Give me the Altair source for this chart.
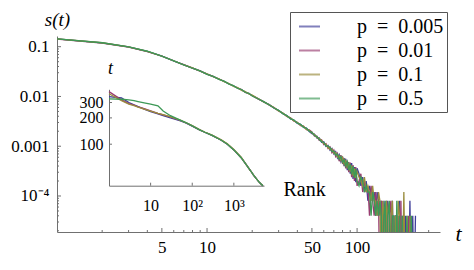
import altair as alt
import pandas as pd

# ---------------- main panel data: s(t) ----------------
t_vals = [1, 2, 3, 4, 5, 6, 7, 8, 9, 10, 11, 12, 13, 14, 15, 16, 17, 18, 19, 20,
          22, 24, 26, 28, 30, 32, 34, 36, 38, 40,
          42, 44, 46, 48, 50, 52, 54, 56, 58, 60, 62, 64, 66, 68, 70, 72, 74, 76, 78, 80,
          82, 84, 86, 88, 90, 92, 94, 96, 98, 100,
          103, 106, 109, 112, 115, 118, 121, 124, 127, 130, 133, 136, 139, 142, 145, 148,
          151, 154, 157, 160,
          164, 168, 172, 176, 180, 184, 188, 192, 196, 200,
          205, 210, 215, 220, 225, 230, 235, 240, 245]

s_p0005 = [0.143, 0.119, 0.0989, 0.0804, 0.0646, 0.0519, 0.0432, 0.0372, 0.0324, 0.0282,
           0.0251, 0.0224, 0.0200, 0.0180, 0.0162, 0.0148, 0.0135, 0.0123, 0.01135, 0.01047,
           0.00895, 0.00768, 0.00684, 0.00580, 0.00525, 0.00450, 0.00415, 0.00355, 0.00333, 0.00288,
           0.00276, 0.00238, 0.00231, 0.00198,
           0.00180, 0.00176, 0.00146, 0.00147, 0.00120, 0.00123, 0.00099, 0.00104, 0.00083, 0.00090,
           0.00070, 0.00078, 0.00058, 0.00068, 0.00049, 0.00062, 0.00040, 0.00056, 0.00033, 0.00048,
           0.00028, 0.00046, 0.00022, 0.00038, 0.00019, 0.00036,
           2.8e-4, 1.6e-4, 2.4e-4, 1.2e-4, 2.0e-4, 8e-5, 1.6e-4, 1.2e-4, 8e-5, 1.2e-4,
           4e-5, 1.2e-4, 8e-5, 4e-5, 8e-5, 1e-6, 8e-5, 4e-5, 1e-6, 8e-5,
           4e-5, 1e-6, 8e-5, 1e-6, 4e-5, 4e-5, 1e-6, 8e-5, 1e-6, 4e-5,
           1e-6, 4e-5, 1e-6, 1e-6, 8e-5, 1e-6, 4e-5, 1e-6, 4e-5]

s_p001 = [0.142, 0.118, 0.0985, 0.0800, 0.0650, 0.0516, 0.0435, 0.0370, 0.0326, 0.0280,
          0.0253, 0.0222, 0.0202, 0.0178, 0.0164, 0.0146, 0.0137, 0.0121, 0.0115, 0.0103,
          0.00885, 0.00782, 0.00668, 0.00597, 0.00510, 0.00466, 0.00398, 0.00372, 0.00318, 0.00303,
          0.00260, 0.00253, 0.00216, 0.00212,
          0.00193, 0.00160, 0.00160, 0.00131, 0.00135, 0.00108, 0.00113, 0.00090, 0.00097, 0.00074,
          0.00084, 0.00062, 0.00072, 0.00050, 0.00066, 0.00044, 0.00058, 0.00036, 0.00051, 0.00030,
          0.00047, 0.00024, 0.00042, 0.00020, 0.00038, 0.00016,
          2.0e-4, 2.8e-4, 1.2e-4, 2.0e-4, 1.2e-4, 1.6e-4, 4e-5, 1.6e-4, 8e-5, 4e-5,
          1.2e-4, 4e-5, 8e-5, 1e-6, 8e-5, 4e-5, 1e-6, 4e-5, 8e-5, 1e-6,
          4e-5, 8e-5, 1e-6, 4e-5, 1e-6, 1e-6, 4e-5, 1e-6, 8e-5, 1e-6,
          4e-5, 1e-6, 1e-6, 4e-5, 1e-6, 1e-6, 1e-6, 1e-6, 1e-6]

s_p01 = [0.144, 0.120, 0.0992, 0.0808, 0.0643, 0.0522, 0.0429, 0.0375, 0.0321, 0.0285,
         0.0249, 0.0226, 0.0198, 0.0182, 0.0160, 0.0150, 0.0133, 0.0125, 0.0112, 0.0106,
         0.00898, 0.00770, 0.00680, 0.00592, 0.00512, 0.00462, 0.00402, 0.00368, 0.00321, 0.00300,
         0.00264, 0.00250, 0.00218, 0.00209,
         0.00184, 0.00172, 0.00150, 0.00143, 0.00131, 0.00112, 0.00110, 0.00094, 0.00086, 0.00088,
         0.00072, 0.00075, 0.00060, 0.00064, 0.00052, 0.00060, 0.00043, 0.00051, 0.00038, 0.00045,
         0.00031, 0.00041, 0.00025, 0.00036, 0.00023, 0.00031,
         2.4e-4, 2.0e-4, 1.6e-4, 2.4e-4, 1.2e-4, 1.6e-4, 1.2e-4, 8e-5, 1.6e-4, 8e-5,
         8e-5, 4e-5, 1.2e-4, 8e-5, 1e-6, 8e-5, 4e-5, 1e-6, 8e-5, 4e-5,
         1e-6, 4e-5, 8e-5, 1e-6, 4e-5, 1e-6, 8e-5, 4e-5, 1e-6, 1e-6,
         1.2e-4, 1e-6, 4e-5, 1e-6, 4e-5, 1e-6, 1e-6, 1e-6, 1e-6]

s_p05 = [0.144, 0.120, 0.0995, 0.0810, 0.0648, 0.0521, 0.0433, 0.0369, 0.0327, 0.0279,
         0.0254, 0.0221, 0.0203, 0.0177, 0.0165, 0.0145, 0.0138, 0.0120, 0.0116, 0.0102,
         0.00888, 0.00780, 0.00672, 0.00586, 0.00527, 0.00452, 0.00412, 0.00358, 0.00336, 0.00290,
         0.00275, 0.00240, 0.00230, 0.00200,
         0.00190, 0.00164, 0.00156, 0.00136, 0.00124, 0.00119, 0.00102, 0.00100, 0.00094, 0.00078,
         0.00080, 0.00066, 0.00070, 0.00055, 0.00062, 0.00047, 0.00054, 0.00040, 0.00049, 0.00033,
         0.00044, 0.00027, 0.00040, 0.00023, 0.00035, 0.00020,
         1.6e-4, 2.4e-4, 2.0e-4, 1.2e-4, 1.6e-4, 1.2e-4, 1.2e-4, 4e-5, 1.2e-4, 8e-5,
         4e-5, 8e-5, 4e-5, 8e-5, 4e-5, 1e-6, 4e-5, 8e-5, 1e-6, 4e-5,
         8e-5, 1e-6, 4e-5, 4e-5, 1e-6, 8e-5, 1e-6, 4e-5, 1e-6, 4e-5,
         1e-6, 1e-6, 4e-5, 1e-6, 1e-6, 4e-5, 1e-6, 1e-6, 1e-6]

series_labels = ["p\u2002=\u20020.005", "p\u2002=\u20020.01",
                 "p\u2002=\u20020.1", "p\u2002=\u20020.5"]
series_colors = ["#3F3D99", "#993D71", "#998C3D", "#3D9956"]

# ---------------- inset data: t vs Rank ----------------
rank_vals = [1, 2, 3, 4, 5, 7, 10, 15, 20, 30, 50, 70, 100, 150, 200, 300, 500, 700,
             1000, 1500, 2000, 2500, 3000, 3500, 4000, 4500, 5000]
inset_p0005 = [350, 338, 300, 282, 270, 252, 236, 222, 213, 200, 186, 175, 161, 146, 137,
               126, 111, 100, 86, 70, 58, 50, 44, 40, 37, 35, 33.5]
inset_p001 = [400, 322, 292, 280, 268, 255, 240, 225, 216, 205, 188, 176, 162, 146, 137,
              126, 111, 100, 86, 70, 58, 50, 44, 40, 37, 35, 33.5]
inset_p01 = [378, 315, 288, 276, 266, 252, 239, 226, 218, 206, 190, 177, 163, 147, 138,
             127, 112, 101, 87, 71, 58, 50, 44, 40, 37, 35, 33.5]
inset_p05 = [330, 327, 322, 315, 308, 298, 288, 275, 240, 212, 190, 177, 162, 146, 137,
             126, 111, 100, 86, 70, 58, 50, 44, 40, 37, 35, 33.5]

# ---------------- ticks ----------------
x_major = [5, 10, 50, 100]
x_major_labels = ["5", "10", "50", "100"]
x_minor = [2, 3, 4, 6, 7, 8, 9, 20, 30, 40, 60, 70, 80, 90, 200, 300]
y_major = [0.1, 0.01, 0.001, 0.0001]
y_major_labels = ["0.1", "0.01", "0.001", "10\u207B\u2074"]
y_minor = [0.09, 0.08, 0.07, 0.06, 0.05, 0.04, 0.03, 0.02,
           0.009, 0.008, 0.007, 0.006, 0.005, 0.004, 0.003, 0.002,
           0.0009, 0.0008, 0.0007, 0.0006, 0.0005, 0.0004, 0.0003, 0.0002,
           0.00009, 0.00008, 0.00007, 0.00006, 0.00005, 0.00004, 0.00003, 0.00002]
inset_x_major = [10, 100, 1000]
inset_x_labels = ["10", "10\u00B2", "10\u00B3"]
inset_y_major = [100, 200, 300]
inset_y_labels = ["100", "200", "300"]

# ---------------- styling ----------------
FONT = "Liberation Serif"
AX = "#707070"
W, H = 383, 196
IX0, IX1 = 52, 207        # inset x range (px inside plot)
IY0, IY1 = 149.7, 53.3    # inset y range (bottom, top)


def label_expr(values, labels):
    parts = [f"abs(datum.value - {v}) < {abs(v) * 1e-6} ? '{l}'" for v, l in zip(values, labels)]
    return " : ".join(parts) + " : ''"


main_rows = []
for vals, lab in zip([s_p0005, s_p001, s_p01, s_p05], series_labels):
    main_rows.append(pd.DataFrame({"t": t_vals, "s": vals, "p": lab}))
main_df = pd.concat(main_rows, ignore_index=True)

inset_rows = []
for vals, lab in zip([inset_p0005, inset_p001, inset_p01, inset_p05], series_labels):
    inset_rows.append(pd.DataFrame({"rank": rank_vals, "tt": vals, "p": lab}))
inset_df = pd.concat(inset_rows, ignore_index=True)


def xs():
    return alt.Scale(type="log", domain=[1, 357], nice=False)


def ys():
    return alt.Scale(type="log", domain=[1.89e-5, 0.164], nice=False)


def ixs():
    return alt.Scale(type="log", domain=[1, 5300], range=[IX0, IX1], nice=False)


def iys():
    return alt.Scale(type="log", domain=[33.5, 425], range=[IY0, IY1], nice=False)


color_scale = alt.Scale(domain=series_labels, range=series_colors)

legend = alt.Legend(title=None, orient="none", legendX=233, legendY=-24,
                    fillColor="white", strokeColor="#555555", padding=3,
                    symbolType="M-1,0H1", symbolSize=441, symbolStrokeWidth=2,
                    symbolOpacity=0.65, symbolOffset=5,
                    labelFont=FONT, labelFontSize=20, labelColor="black",
                    labelOffset=36, rowPadding=2, labelLimit=300)

main_x_axis = alt.Axis(orient="bottom", values=x_major, labelExpr=label_expr(x_major, x_major_labels),
                       ticks=False, grid=False, domainColor=AX, domainWidth=1,
                       labelFont=FONT, labelFontSize=17, labelColor="black", labelPadding=7,
                       labelFlush=False, labelOverlap=False,
                       title="t", titleFont=FONT, titleFontStyle="italic", titleFontSize=22,
                       titleFontWeight="normal", titleColor="black",
                       titleX=401, titleY=8, titleAlign="center", titleBaseline="alphabetic")
main_y_axis = alt.Axis(orient="left", values=y_major, labelExpr=label_expr(y_major, y_major_labels),
                       ticks=False, grid=False, domainColor=AX, domainWidth=1,
                       labelFont=FONT, labelFontSize=17, labelColor="black", labelPadding=8,
                       labelFlush=False, labelOverlap=False,
                       title="s(t)", titleFont=FONT, titleFontStyle="italic", titleFontSize=19,
                       titleFontWeight="normal", titleColor="black", titleAngle=0,
                       titleX=0, titleY=-11, titleAlign="center", titleBaseline="alphabetic")

inset_x_axis = alt.Axis(orient="bottom", offset=-(H - IY0), values=inset_x_major,
                        labelExpr=label_expr(inset_x_major, inset_x_labels),
                        ticks=False, grid=False, domainColor=AX, domainWidth=1,
                        labelFont=FONT, labelFontSize=16, labelColor="black", labelPadding=12,
                        labelFlush=False, labelOverlap=False,
                        title="Rank", titleFont=FONT, titleFontSize=20, titleFontWeight="normal",
                        titleColor="black", titleX=226, titleY=9.3, titleAlign="left",
                        titleBaseline="alphabetic")
inset_y_axis = alt.Axis(orient="left", offset=-IX0, values=inset_y_major,
                        labelExpr=label_expr(inset_y_major, inset_y_labels),
                        ticks=False, grid=False, domainColor=AX, domainWidth=1,
                        labelFont=FONT, labelFontSize=16, labelColor="black", labelPadding=6,
                        labelFlush=False, labelOverlap=False,
                        title="t", titleFont=FONT, titleFontStyle="italic", titleFontSize=18,
                        titleFontWeight="normal", titleColor="black", titleAngle=0,
                        titleX=1, titleY=37, titleAlign="center", titleBaseline="alphabetic")

lines = alt.Chart(main_df).mark_line(clip=True, strokeWidth=1.3).encode(
    x=alt.X("t:Q", scale=xs(), axis=main_x_axis),
    y=alt.Y("s:Q", scale=ys(), axis=main_y_axis),
    color=alt.Color("p:N", scale=color_scale, legend=legend, sort=series_labels),
)

inset_lines = alt.Chart(inset_df).mark_line(strokeWidth=1.3).encode(
    x=alt.X("rank:Q", scale=ixs(), axis=inset_x_axis),
    y=alt.Y("tt:Q", scale=iys(), axis=inset_y_axis),
    color=alt.Color("p:N", scale=color_scale, legend=None, sort=series_labels),
)


def x_ticks(values, scale, y0, length):
    return alt.Chart(pd.DataFrame({"v": values})).mark_rule(color=AX, strokeWidth=1).encode(
        x=alt.X("v:Q", scale=scale, axis=None),
        y=alt.value(y0), y2=alt.value(y0 - length))


def y_ticks(values, scale, x0, length):
    return alt.Chart(pd.DataFrame({"v": values})).mark_rule(color=AX, strokeWidth=1).encode(
        y=alt.Y("v:Q", scale=scale, axis=None),
        x=alt.value(x0), x2=alt.value(x0 + length))


chart = alt.layer(
    lines,
    x_ticks(x_major, xs(), H, 4), x_ticks(x_minor, xs(), H, 2),
    y_ticks(y_major, ys(), 0, 4), y_ticks(y_minor, ys(), 0, 2),
    inset_lines,
    x_ticks(inset_x_major, ixs(), IY0, 3),
    y_ticks(inset_y_major, iys(), IX0, 3),
).resolve_scale(
    x="independent", y="independent"
).properties(
    width=W, height=H,
    padding={"left": 49, "top": 28, "right": 26, "bottom": 30},
    autosize=alt.AutoSizeParams(type="none"),
).configure_view(stroke=None)

chart.save("out.html", embed_options={"renderer": "svg", "actions": False})
